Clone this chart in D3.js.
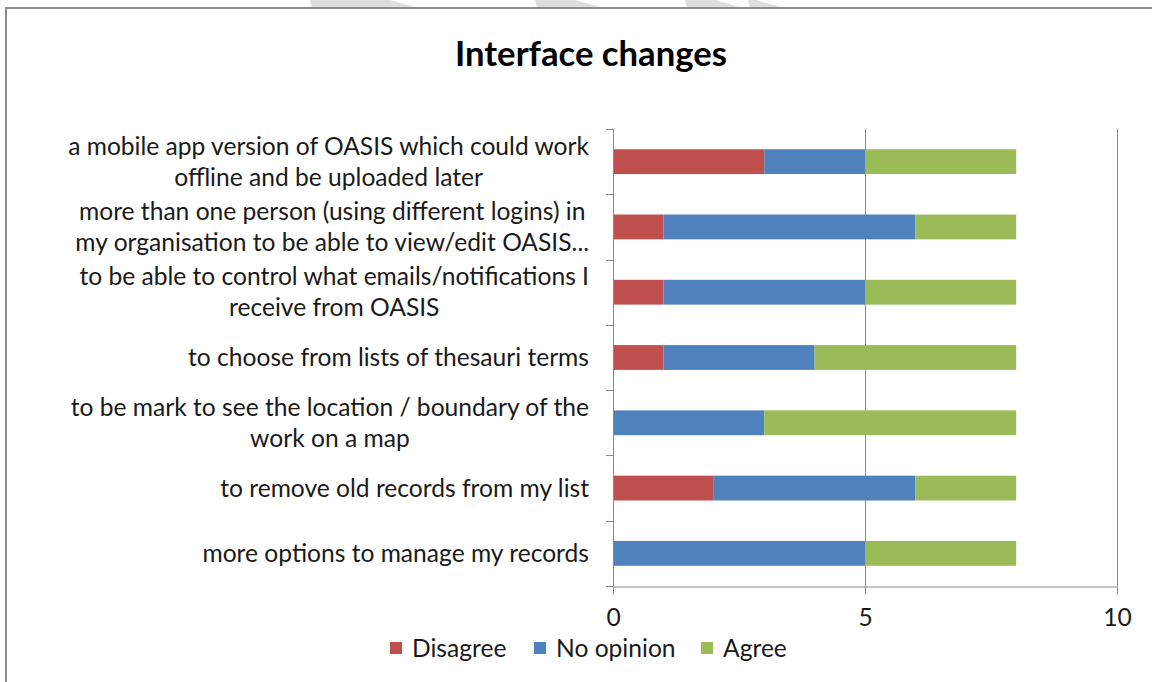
<!DOCTYPE html>
<html>
<head>
<meta charset="utf-8">
<script src="https://cdn.jsdelivr.net/npm/d3@7/dist/d3.min.js"></script>
<style>
	body{ margin:0; background:#fff; }
	svg{ display:block; }
	text{ font-family: Lato, "Open Sans", sans-serif; fill:#1a1a1a; }
</style>
</head>
<body>
<svg id="chart" width="1152" height="682"></svg>
<script>
// chart values
var categoryLines = [
	["a mobile app version of OASIS which could work", "offline and be uploaded later"],
	["more than one person (using different logins) in", "my organisation to be able to view/edit OASIS..."],
	["to be able to control what emails/notifications I", "receive from OASIS"],
	["to choose from lists of thesauri terms"],
	["to be mark to see the location / boundary of the", "work on a map"],
	["to remove old records from my list"],
	["more options to manage my records"]
];
var disagree = [3, 1, 1, 1, 0, 2, 0];
var noOpinion = [2, 5, 4, 3, 3, 4, 5];
var agree = [3, 2, 3, 4, 5, 2, 3];
var seriesNames = ["Disagree", "No opinion", "Agree"];
var seriesColors = ["#C0504D", "#4F81BD", "#9BBB59"];
var xTicks = [0, 5, 10];
var title = "Interface changes";

var svg = d3.select("#chart");
var plotLeft = 613, plotRight = 1117, plotTop = 129, plotBottom = 586;

// fit a substitute font to the widths of the original one
function fitSize(str, base, target, weight){
	var t = svg.append("text").attr("font-size", base).attr("font-weight", weight || "normal").text(str);
	var w = t.node().getComputedTextLength();
	t.remove();
	return base * target / w;
}
var labelSize = fitSize(categoryLines[0][0], 22, 521);
var titleSize = fitSize(title, 30, 272, "bold");

// faint watermark above the frame
var marks = [[310, 80], [535, 40], [685, 30], [748, 8]];
svg.selectAll(".wm")
	.data(marks)
	.enter().append("polygon")
	.attr("fill", "#dedede")
	.attr("points", function(d){
		return d[0] + ",0 " + (d[0] + d[1]) + ",0 " + (d[0] + d[1] + 28) + ",8 " + (d[0] + 2) + ",8";
	});
svg.append("rect")
	.attr("x", 6).attr("y", 8)
	.attr("width", 1160).attr("height", 700)
	.attr("fill", "none")
	.attr("stroke", "#8c8c8c")
	.attr("stroke-width", 2);

var keys = categoryLines.map(function(d){ return d.join(" "); });

var x = d3.scaleLinear().domain([0, 10]).range([plotLeft, plotRight]);
var y = d3.scaleBand()
	.domain(keys)
	.range([plotTop, plotBottom])
	.paddingInner(0.62)
	.paddingOuter(0.31);

var rows = keys.map(function(k, i){
	return {key: k, "Disagree": disagree[i], "No opinion": noOpinion[i], "Agree": agree[i]};
});
var stacked = d3.stack().keys(seriesNames)(rows);

// gridlines
svg.selectAll(".grid")
	.data(xTicks.filter(function(d){ return d > 0; }))
	.enter().append("line")
	.attr("x1", function(d){ return Math.round(x(d)) + 0.5; })
	.attr("x2", function(d){ return Math.round(x(d)) + 0.5; })
	.attr("y1", plotTop)
	.attr("y2", plotBottom)
	.attr("stroke", "#8a8a8a");

// bars
svg.selectAll(".series")
	.data(stacked)
	.enter().append("g")
	.attr("fill", function(d, i){ return seriesColors[i]; })
	.selectAll("rect")
	.data(function(d){ return d; })
	.enter().append("rect")
	.attr("x", function(d){ return x(d[0]); })
	.attr("width", function(d){ return x(d[1]) - x(d[0]); })
	.attr("y", function(d){ return y(d.data.key); })
	.attr("height", y.bandwidth());

// x axis
var xAxis = svg.append("g")
	.attr("transform", "translate(0," + (plotBottom + 0.5) + ")")
	.call(d3.axisBottom(x).tickValues(xTicks).tickSize(8).tickSizeOuter(0).tickPadding(14));
xAxis.select(".domain").attr("stroke", "#8a8a8a");
xAxis.selectAll(".tick line").attr("stroke", "#8a8a8a");
xAxis.selectAll(".tick text")
	.attr("font-size", labelSize)
	.attr("font-family", "Lato, sans-serif")
	.attr("fill", "#1a1a1a");

// category axis
var bounds = d3.range(keys.length + 1).map(function(i){
	return plotTop + i * (plotBottom - plotTop) / keys.length;
});
svg.append("line")
	.attr("x1", plotLeft + 0.5).attr("x2", plotLeft + 0.5)
	.attr("y1", plotTop).attr("y2", plotBottom)
	.attr("stroke", "#8a8a8a");
svg.selectAll(".ctick")
	.data(bounds)
	.enter().append("line")
	.attr("x1", plotLeft - 7).attr("x2", plotLeft)
	.attr("y1", function(d){ return Math.round(d) + 0.5; })
	.attr("y2", function(d){ return Math.round(d) + 0.5; })
	.attr("stroke", "#8a8a8a");

// category labels, lines centred inside a right aligned block
var lineH = 31;
var labels = svg.selectAll(".clabel")
	.data(categoryLines)
	.enter().append("g");
labels.each(function(lines, i){
	var g = d3.select(this);
	var cy = y(keys[i]) + y.bandwidth() / 2;
	var texts = g.selectAll("text")
		.data(lines)
		.enter().append("text")
		.attr("font-size", labelSize)
		.attr("text-anchor", "middle")
		.attr("dy", "0.35em")
		.attr("y", function(d, j){ return cy + (j - (lines.length - 1) / 2) * lineH; })
		.text(function(d){ return d; });
	var maxW = d3.max(texts.nodes(), function(n){ return n.getComputedTextLength(); });
	texts.attr("x", plotLeft - 24 - maxW / 2);
});

// title
svg.append("text")
	.attr("x", 591)
	.attr("y", 66)
	.attr("text-anchor", "middle")
	.attr("font-size", titleSize)
	.attr("font-weight", "bold")
	.style("fill", "#000")
	.text(title);

// legend
var legendX = [390, 534, 701];
var legend = svg.selectAll(".legend")
	.data(seriesNames)
	.enter().append("g")
	.attr("transform", function(d, i){ return "translate(" + legendX[i] + ",648)"; });
legend.append("rect")
	.attr("x", 0).attr("y", -6)
	.attr("width", 12).attr("height", 12)
	.attr("fill", function(d, i){ return seriesColors[i]; });
legend.append("text")
	.attr("x", 22)
	.attr("dy", "0.35em")
	.attr("font-size", labelSize)
	.text(function(d){ return d; });
</script>
</body>
</html>
